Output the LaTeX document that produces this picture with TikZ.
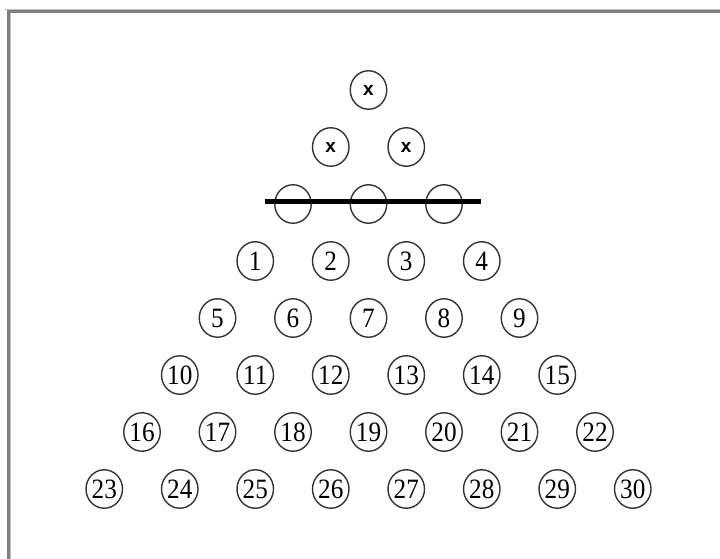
\documentclass[tikz,border=0pt]{standalone}
\usepackage{fontspec}
\setmainfont{Liberation Serif}
\newfontfamily\xfont{Liberation Sans}
\usetikzlibrary{shapes.geometric,calc}
\tikzset{
  ball/.style={ellipse, draw=black!80, line width=1.4pt, inner sep=0pt,
    minimum width=36.5pt, minimum height=38.5pt},
  numtext/.style={font=\fontsize{28}{28}\selectfont},
  xtext/.style={font=\xfont\fontsize{19}{19}\selectfont\bfseries},
  strike/.style={line width=5.5pt, black},
  frameDark/.style={line width=2.5pt, black!50},
  frameLight/.style={line width=1.5pt, black!25}
}
\newcommand{\narrow}[1]{\scalebox{0.9}[1]{#1}}
\begin{document}
\begin{tikzpicture}[x=1pt,y=-1pt]
\useasboundingbox (0,0) rectangle (720,559);
\fill[white] (0,0) rectangle (720,559);
% sunken frame (top and left edges)
\coordinate (ftl) at (8.5,11.5);
\coordinate (ftr) at (720,11.5);
\coordinate (fbl) at (8.5,559);
\draw[frameLight] (5,9.5) -- (720,9.5);
\draw[frameDark] (ftr) -- (ftl) -- (fbl);
\draw[frameLight] (10.5,13) -- (10.5,559);
% rows 1-3
\node[ball,xtext] (x1) at (368.5,90) {x};
\node[ball,xtext] (x2) at (330.75,147) {x};
\node[ball,xtext] (x3) at (406.25,147) {x};
\node[ball] (b1) at (293,204) {};
\node[ball] (b2) at (368.5,204) {};
\node[ball] (b3) at (444,204) {};
\coordinate (sl) at ($(b1.center)+(-28,-2.5)$);
\coordinate (sr) at ($(b3.center)+(37,-2.5)$);
\draw[strike] (sl) -- (sr);
% numbered rows
\foreach \k in {4,...,8}{
  \foreach \i in {1,...,\k}{
    \pgfmathtruncatemacro{\n}{(\k-1)*\k/2-6+\i}
    \pgfmathsetmacro{\xx}{368.5+(\i-(\k+1)/2)*75.5}
    \pgfmathsetmacro{\yy}{90+(\k-1)*57}
    \node[ball,numtext] (c\n) at (\xx,\yy) {\narrow{\n}};
  }
}
\end{tikzpicture}
\end{document}
